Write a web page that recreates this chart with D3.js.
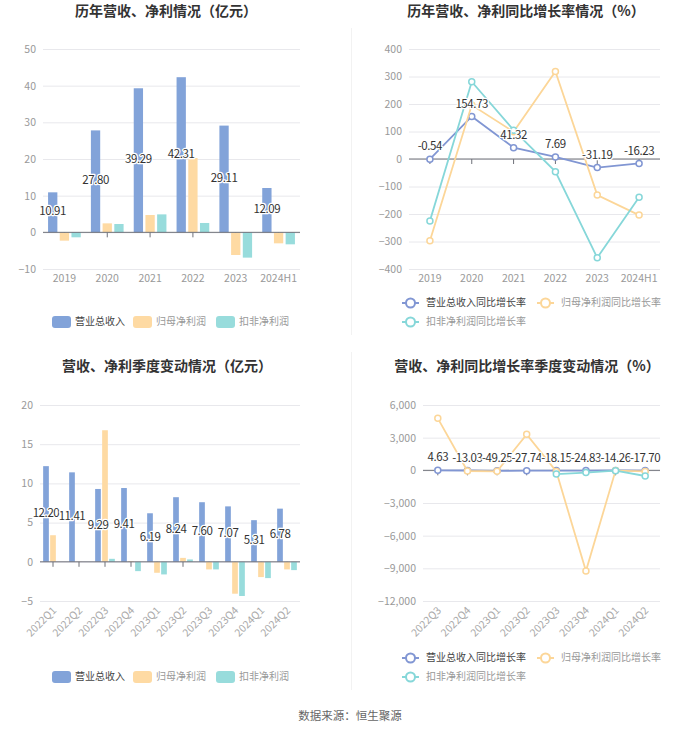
<!DOCTYPE html>
<html><head><meta charset="utf-8">
<script src="https://cdn.jsdelivr.net/npm/d3@7/dist/d3.min.js"></script>
<style>
body{margin:0;background:#fff;}
svg{display:block;font-family:"Noto Sans CJK SC","Noto Sans",sans-serif;}
</style></head>
<body>
<svg id="c" width="700" height="734"></svg>
<script>
// ---------- DATA ----------
const years = ["2019","2020","2021","2022","2023","2024H1"];
const annRevenue = [10.91, 27.80, 39.29, 42.31, 29.11, 12.09];
const annNetProfit = [-2.27, 2.45, 4.73, 20.27, -6.18, -3.00];
const annDeductNP = [-1.36, 2.27, 4.90, 2.55, -6.90, -3.27];

const annRevenueYoY = [-0.54, 154.73, 41.32, 7.69, -31.19, -16.23];
const annNetProfitYoY = [-297, 196, 99, 318, -131, -204];
const annDeductNPYoY = [-225, 281, 105, -46, -359, -139];

const quarters = ["2022Q1","2022Q2","2022Q3","2022Q4","2023Q1","2023Q2","2023Q3","2023Q4","2024Q1","2024Q2"];
const qRevenue = [12.20, 11.41, 9.29, 9.41, 6.19, 8.24, 7.60, 7.07, 5.31, 6.78];
const qNetProfit = [3.39, 0.02, 16.78, 0.09, -1.40, 0.50, -0.97, -4.07, -1.95, -0.97];
const qDeductNP = [null, null, 0.38, -1.19, -1.61, 0.30, -0.97, -4.36, -2.08, -1.06];

const qQuarters = ["2022Q3","2022Q4","2023Q1","2023Q2","2023Q3","2023Q4","2024Q1","2024Q2"];
const qRevenueYoY = [4.63, -13.03, -49.25, -27.74, -18.15, -24.83, -14.26, -17.70];
const qNetProfitYoY = [4776, -60, -90, 3306, -107, -9245, -20, -100];
const qDeductNPYoY = [null, null, null, null, -340, -210, -30, -520];

const ticksTL = [-10, 0, 10, 20, 30, 40, 50];
const ticksTR = [-400, -300, -200, -100, 0, 100, 200, 300, 400];
const ticksBL = [-5, 0, 5, 10, 15, 20];
const ticksBR = [-12000, -9000, -6000, -3000, 0, 3000, 6000];

const barNames = ["营业总收入","归母净利润","扣非净利润"];
const lineNames = ["营业总收入同比增长率","归母净利润同比增长率","扣非净利润同比增长率"];
const titles = ["历年营收、净利情况（亿元）","历年营收、净利同比增长率情况（%）","营收、净利季度变动情况（亿元）","营收、净利同比增长率季度变动情况（%）"];
const source = "数据来源：恒生聚源";

// ---------- STYLE ----------
const barColors = ["#82a3d9","#fedaa3","#98dcdc"];
const lineColors = ["#8196d3","#fcd698","#86d7d9"];
const legendText = ["#444","#999","#999"];

const svg = d3.select("#c");

// separators
svg.append("line").attr("x1",351.5).attr("x2",351.5).attr("y1",28).attr("y2",335).attr("stroke","#f2f2f2");
svg.append("line").attr("x1",351.5).attr("x2",351.5).attr("y1",352).attr("y2",690).attr("stroke","#f2f2f2");

function title(txt, cx, cy){
  svg.append("text").attr("x",cx).attr("y",cy).attr("text-anchor","middle")
    .attr("dominant-baseline","middle").attr("font-size",14).attr("font-weight","bold")
    .attr("fill","#333").text(txt);
}
title(titles[0],166,12);
title(titles[1],526,12);
title(titles[2],167,367);
title(titles[3],527,367);
svg.append("text").attr("x",350).attr("y",717).attr("text-anchor","middle")
  .attr("dominant-baseline","middle").attr("font-size",11.5).attr("fill","#666").text(source);

function yAxis(g, y, x0, x1, ticks, fmt){
  const ax = d3.axisLeft(y).tickValues(ticks).tickSize(-(x1-x0)).tickPadding(7).tickFormat(fmt);
  const a = g.append("g").attr("transform",`translate(${x0},0)`).call(ax);
  a.select(".domain").remove();
  a.selectAll(".tick line").attr("stroke","#e8e8ec");
  a.selectAll(".tick text").attr("fill","#999").attr("font-size",10.5)
    .attr("font-family",'"Noto Sans CJK SC","Noto Sans",sans-serif');
}
function xTicks(g, x, y0, yBottom, rotate){
  x.domain().forEach(d=>{
    const cx = x(d)+x.bandwidth()/2;
    g.append("line").attr("x1",cx).attr("x2",cx).attr("y1",y0).attr("y2",y0+5)
      .attr("stroke","#6e7079");
    if(rotate){
      g.append("text").attr("transform",`translate(${cx+2},${yBottom+8}) rotate(-45)`)
        .attr("text-anchor","end").attr("dominant-baseline","middle")
        .attr("font-size",10.5).attr("fill","#aaa").text(d);
    } else {
      g.append("text").attr("x",cx).attr("y",yBottom+10).attr("text-anchor","middle")
        .attr("dominant-baseline","middle").attr("font-size",10.5).attr("fill","#999").text(d);
    }
  });
}
function xLine(g, x, y0){
  g.append("line").attr("x1",x.range()[0]).attr("x2",x.range()[1]).attr("y1",y0).attr("y2",y0)
    .attr("stroke","#6e7079").attr("stroke-width",1);
}
function labelText(g, x, y, txt){
  g.append("text").attr("x",x).attr("y",y).attr("text-anchor","middle")
    .attr("dominant-baseline","middle").attr("font-size",11.5).attr("fill","#333")
    .attr("letter-spacing",-0.4)
    .attr("stroke","#fff").attr("stroke-width",2.5).attr("paint-order","stroke")
    .attr("stroke-linejoin","round").text(txt);
}
function barLegend(g, y, xs){
  barNames.forEach((n,i)=>{
    g.append("rect").attr("x",xs[i]).attr("y",y-6).attr("width",19).attr("height",12)
      .attr("rx",3).attr("fill",barColors[i]);
    g.append("text").attr("x",xs[i]+23).attr("y",y).attr("dominant-baseline","middle")
      .attr("font-size",10).attr("fill",legendText[i]).text(n);
  });
}
function lineLegend(g, pos){
  lineNames.forEach((n,i)=>{
    const [x,y] = pos[i];
    g.append("line").attr("x1",x).attr("x2",x+17).attr("y1",y).attr("y2",y)
      .attr("stroke",lineColors[i]).attr("stroke-width",2);
    g.append("circle").attr("cx",x+8.5).attr("cy",y).attr("r",4.5).attr("fill","#fff")
      .attr("stroke",lineColors[i]).attr("stroke-width",2);
    g.append("text").attr("x",x+24).attr("y",y).attr("dominant-baseline","middle")
      .attr("font-size",10).attr("fill",legendText[i]).text(n);
  });
}

function barChart(cfg){
  const g = svg.append("g");
  const x = d3.scaleBand().domain(cfg.cats).range([cfg.x0,cfg.x1]);
  const y = d3.scaleLinear().domain([cfg.ticks[0],cfg.ticks[cfg.ticks.length-1]]).range([cfg.yb,cfg.yt]);
  yAxis(g,y,cfg.x0,cfg.x1,cfg.ticks,d3.format("d"));
  xTicks(g,x,y(0),cfg.yb,cfg.rotate);
  const series = [cfg.s0,cfg.s1,cfg.s2];
  series.forEach((s,si)=>{
    s.forEach((v,i)=>{
      if(v===null) return;
      const cx = x(cfg.cats[i])+x.bandwidth()/2 + (si-1)*cfg.step;
      g.append("rect").attr("x",cx-cfg.bw/2).attr("width",cfg.bw)
        .attr("y",y(Math.max(0,v))).attr("height",Math.abs(y(v)-y(0)))
        .attr("fill",barColors[si]);
    });
  });
  xLine(g,x,y(0));
  cfg.s0.forEach((v,i)=>{
    const cx = x(cfg.cats[i])+x.bandwidth()/2 - cfg.step;
    labelText(g,cx,(y(v)+y(0))/2,v.toFixed(2));
  });
  barLegend(g,cfg.legendY,[52,133,216]);
}

function lineChart(cfg){
  const g = svg.append("g");
  const x = d3.scaleBand().domain(cfg.cats).range([cfg.x0,cfg.x1]);
  const y = d3.scaleLinear().domain([cfg.ticks[0],cfg.ticks[cfg.ticks.length-1]]).range([cfg.yb,cfg.yt]);
  yAxis(g,y,cfg.x0,cfg.x1,cfg.ticks,cfg.fmt);
  xTicks(g,x,y(0),cfg.yb,cfg.rotate);
  xLine(g,x,y(0));
  const cxf = (d)=>x(d)+x.bandwidth()/2;
  const series = [cfg.s0,cfg.s1,cfg.s2];
  series.forEach((s,si)=>{
    const pts = s.map((v,i)=>({c:cfg.cats[i],v})).filter(p=>p.v!==null);
    const line = d3.line().x(p=>cxf(p.c)).y(p=>y(p.v));
    g.append("path").attr("d",line(pts)).attr("fill","none")
      .attr("stroke",lineColors[si]).attr("stroke-width",1.8);
    pts.forEach(p=>{
      g.append("circle").attr("cx",cxf(p.c)).attr("cy",y(p.v)).attr("r",3)
        .attr("fill","#fff").attr("stroke",lineColors[si]).attr("stroke-width",1.5);
    });
  });
  cfg.s0.forEach((v,i)=>{
    labelText(g,cxf(cfg.cats[i]),y(v)-12,v.toFixed(2));
  });
  lineLegend(g,cfg.legendPos);
}

barChart({cats:years,s0:annRevenue,s1:annNetProfit,s2:annDeductNP,ticks:ticksTL,
  x0:43,x1:300,yt:49,yb:269,bw:9.3,step:11.7,rotate:false,legendY:322});

lineChart({cats:years,s0:annRevenueYoY,s1:annNetProfitYoY,s2:annDeductNPYoY,ticks:ticksTR,
  x0:409,x1:660,yt:49,yb:269,rotate:false,fmt:d3.format("d"),
  legendPos:[[402,303],[537,303],[402,322]]});

barChart({cats:quarters,s0:qRevenue,s1:qNetProfit,s2:qDeductNP,ticks:ticksBL,
  x0:40,x1:300,yt:405,yb:601,bw:5.7,step:7,rotate:true,legendY:677});

lineChart({cats:qQuarters,s0:qRevenueYoY,s1:qNetProfitYoY,s2:qDeductNPYoY,ticks:ticksBR,
  x0:423,x1:660,yt:405,yb:601,rotate:true,fmt:d3.format(","),
  legendPos:[[402,658],[537,658],[402,677]]});
</script>
</body></html>
